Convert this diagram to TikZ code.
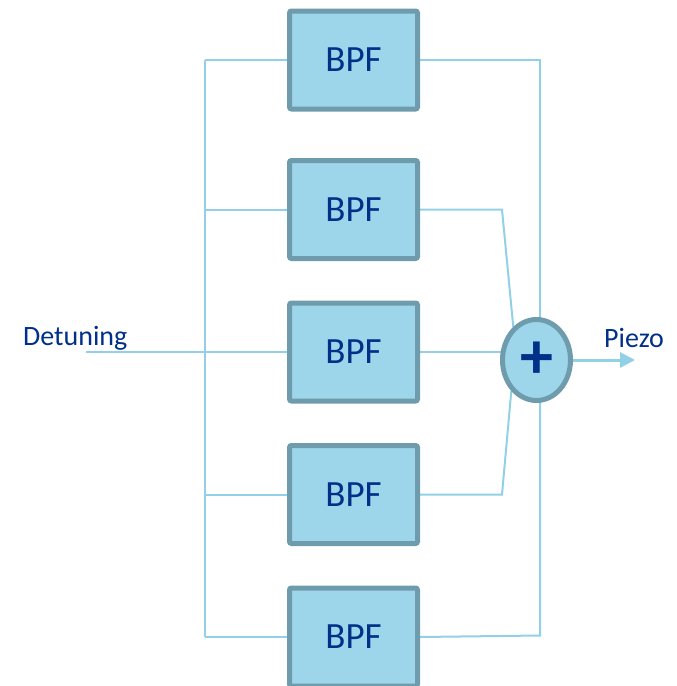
\documentclass[tikz,border=0pt]{standalone}
\usepackage{fontspec}
\setmainfont{Carlito}
\usetikzlibrary{shapes.geometric,arrows.meta,backgrounds}

\definecolor{wire}{RGB}{146,208,230}
\definecolor{boxfill}{RGB}{157,214,234}
\definecolor{boxedge}{RGB}{110,156,172}
\definecolor{ink}{RGB}{0,48,135}

\tikzset{
  filterbox/.style={draw=boxedge, fill=boxfill, line width=5pt, rounded corners=2pt,
    minimum width=128pt, minimum height=98pt, inner sep=0pt, text=ink,
    font=\fontsize{37}{37}\selectfont},
  summer/.style={ellipse, draw=boxedge, fill=boxfill, line width=5pt,
    minimum width=68pt, minimum height=81pt, inner sep=0pt, text=ink,
    font=\fontsize{66}{66}\selectfont\bfseries},
  wireline/.style={draw=wire, line width=2pt},
  portlabel/.style={text=ink, inner sep=0pt, anchor=base west,
    font=\fontsize{28}{28}\selectfont},
}

\begin{document}
\begin{tikzpicture}[x=1pt, y=-1pt]
  \useasboundingbox (0,0) rectangle (677,686);

  % band-pass filter bank
  \node[filterbox] (b1) at (353.5,60)    {BPF};
  \node[filterbox] (b2) at (353.5,209.5) {BPF};
  \node[filterbox] (b3) at (353.5,352)   {BPF};
  \node[filterbox] (b4) at (353.5,494.5) {BPF};
  \node[filterbox] (b5) at (353.5,637)   {BPF};

  % summing junction
  \node[summer] (sum) at (536.5,360) {+};

  % labels
  \node[portlabel] (lin)  at (23,345)  {Detuning};
  \node[portlabel] (lout) at (604,347) {Piezo};

  % wiring points
  \coordinate (in)   at (86,352);
  \coordinate (bust) at (205,60);
  \coordinate (busb) at (205,637);
  \coordinate (k1)   at (540,60);
  \coordinate (k2)   at (502,209.5);
  \coordinate (k4)   at (502,494.5);
  \coordinate (k5)   at (540,635.5);
  \coordinate (out)  at (635,360);

  \begin{scope}[on background layer]
    % input bus
    \draw[wireline] (bust) -- (busb);
    \draw[wireline] (in) -- (b3.west);
    \draw[wireline] (bust) -- (b1.west);
    \draw[wireline] (bust |- b2.west) -- (b2.west);
    \draw[wireline] (bust |- b4.west) -- (b4.west);
    \draw[wireline] (busb) -- (b5.west);
    % outputs into the summer
    \draw[wireline] (b1.east) -- (k1) -- (k1 |- sum.center);
    \draw[wireline] (b2.east) -- (k2) -- (sum.125);
    \draw[wireline] (b3.east) -- (b3.east -| sum.center);
    \draw[wireline] (b4.east) -- (k4) -- (sum.231);
    \draw[wireline] (b5.east) -- (k5) -- (k5 |- sum.center);
  \end{scope}

  % output arrow
  \draw[draw=wire, line width=3pt, -{Triangle[length=15pt,width=15pt]}]
    (sum.east) -- (out);
\end{tikzpicture}
\end{document}
